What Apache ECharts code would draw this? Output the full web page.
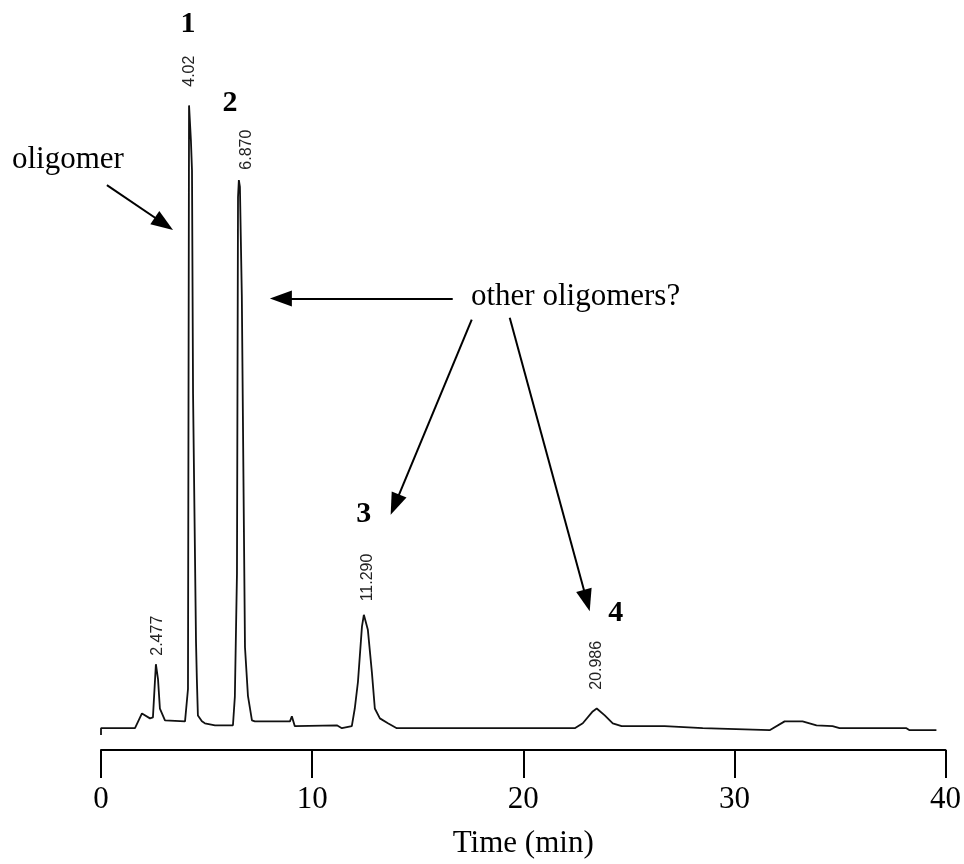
<!DOCTYPE html>
<html>
<head>
<meta charset="utf-8">
<script src="https://cdn.jsdelivr.net/npm/echarts@6/dist/echarts.min.js"></script>
<style>html,body{margin:0;padding:0;background:#fff}#c{width:964px;height:864px}</style>
</head>
<body>
<div id="c"></div>
<script>
// Chromatogram trace: time (min, on drawn axis) and detector response (arbitrary units)
var traceTime = [0, 0, 1.61, 1.94, 2.32, 2.46, 2.60, 2.70, 2.79, 3.03, 3.98, 4.07, 4.12, 4.17, 4.21, 4.26, 4.31, 4.36, 4.50, 4.54, 4.59, 4.78, 4.92, 5.40, 6.25, 6.34, 6.44, 6.49, 6.53, 6.58, 6.67, 6.77, 6.82, 6.96, 7.15, 7.29, 8.95, 9.04, 9.18, 11.17, 11.22, 11.41, 11.88, 12.02, 12.17, 12.36, 12.45, 12.54, 12.64, 12.83, 12.97, 13.21, 13.59, 14.01, 19.83, 22.44, 22.82, 23.29, 23.48, 23.86, 24.24, 24.66, 26.70, 26.79, 28.50, 28.59, 31.67, 32.38, 33.23, 33.89, 34.65, 34.98, 38.15, 38.30, 39.57];
var traceSignal = [-1.1, 0, 0, 2.37, 1.58, 1.74, 10.27, 7.9, 3.16, 1.26, 1.1, 0.79, 6.3, 100, 100, 94.3, 89.6, 53.7, 13.9, 7.9, 2.05, 1.1, 0.79, 0.47, 0.47, 5.06, 24.8, 85.3, 88.0, 86.9, 69.5, 31.6, 13.0, 5.2, 1.26, 1.1, 1.1, 1.9, 0.32, 0.47, 0.79, 0, 0.32, 3.16, 7.42, 16.3, 18.2, 17.9, 15.8, 9.0, 3.16, 1.58, 0.79, 0, 0, 0, 0.79, 2.69, 3.16, 2.05, 0.79, 0.32, 0.32, 0, 0, -0.32, -0.32, 1.1, 1.1, 0.47, 0.32, 0, 0, -0.32, -0.32];
var xTicks = [0, 10, 20, 30, 40];
var peakRetention = ['2.477', '4.02', '6.870', '11.290', '20.986'];
var peakNumbers = ['1', '2', '3', '4'];
var xTitle = 'Time (min)';
var note1 = 'oligomer';
var note2 = 'other oligomers?';

// annotation anchors (data coordinates)
var retentionAt = [[2.70, 14.85], [4.21, 105.5], [6.91, 92.9], [12.64, 24.2], [23.48, 10.1]];
var numberAt = [[4.12, 113], [6.11, 100.3], [12.45, 34.3], [24.38, 18.5]];
var arrows = [
  [[0.28, 87.2], [2.98, 81.0]],
  [[16.66, 69.0], [8.52, 69.0]],
  [[17.56, 65.6], [13.92, 35.9]],
  [[19.36, 65.9], [23.01, 20.5]]
];

var data = traceTime.map(function (t, i) { return [t, traceSignal[i]]; });
var serif = '"Liberation Serif", "Times New Roman", serif';

var markPts = [];
peakRetention.forEach(function (s, i) {
  markPts.push({
    name: s, coord: retentionAt[i], symbolSize: 0,
    label: { show: true, position: 'inside', rotate: 90, formatter: s,
      fontFamily: '"Liberation Sans", Arial, sans-serif', fontSize: 16, color: '#222' }
  });
});
peakNumbers.forEach(function (s, i) {
  markPts.push({
    name: s, coord: numberAt[i], symbolSize: 0,
    label: { show: true, position: 'inside', formatter: s,
      fontFamily: serif, fontSize: 30, fontWeight: 'bold', color: '#000' }
  });
});

var chart = echarts.init(document.getElementById('c'));
chart.setOption({
  animation: false,
  backgroundColor: '#fff',
  grid: { left: 101, right: 18, top: 12, bottom: 102 },
  xAxis: {
    type: 'value', min: 0, max: 40, interval: 10,
    axisLine: { show: true, onZero: false, lineStyle: { color: '#000', width: 2 } },
    axisTick: { show: true, inside: false, length: 28, lineStyle: { color: '#000', width: 2 } },
    axisLabel: { fontFamily: serif, fontSize: 31, color: '#000', margin: 34,
      formatter: function (v) { return xTicks.indexOf(v) >= 0 ? String(v) : ''; } },
    splitLine: { show: false },
    name: xTitle, nameLocation: 'middle', nameGap: 78,
    nameTextStyle: { fontFamily: serif, fontSize: 31, color: '#000' }
  },
  yAxis: { type: 'value', min: -3.5, max: 115, show: false, splitLine: { show: false } },
  graphic: [
    { type: 'text', left: 12, top: 144, style: { text: note1, font: '31px ' + serif, fill: '#000' } },
    { type: 'text', left: 471, top: 281, style: { text: note2, font: '31px ' + serif, fill: '#000' } }
  ],
  series: [{
    type: 'line', data: data, showSymbol: false, symbol: 'none', clip: false,
    lineStyle: { color: '#111', width: 1.8 },
    markPoint: { symbol: 'circle', symbolSize: 0, data: markPts, silent: true },
    markLine: {
      silent: true, symbol: ['none', 'triangle'], symbolSize: [16, 22],
      label: { show: false },
      lineStyle: { color: '#000', width: 2, type: 'solid' },
      data: arrows.map(function (a) { return [{ coord: a[0] }, { coord: a[1] }]; })
    }
  }]
});
</script>
</body>
</html>
